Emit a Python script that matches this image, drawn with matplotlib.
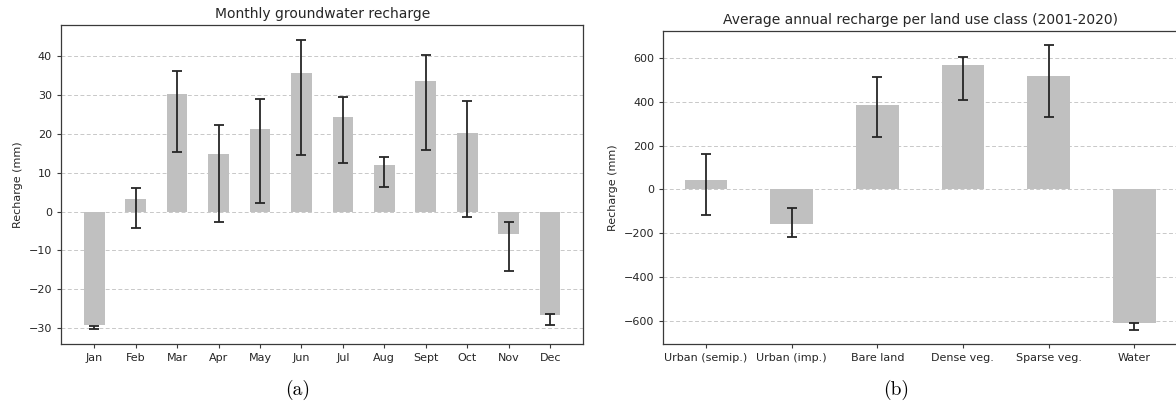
import numpy as np
import matplotlib
matplotlib.use("Agg")
import matplotlib.pyplot as plt

# monthly recharge (mm) with the low/high ends of each error bar
months = ["Jan", "Feb", "Mar", "Apr", "May", "Jun", "Jul", "Aug", "Sept", "Oct", "Nov", "Dec"]
monthly_mean = [-29.3, 3.2, 30.2, 14.9, 21.2, 35.7, 24.5, 11.9, 33.6, 20.3, -5.8, -26.7]
monthly_low = [-30.3, -4.3, 15.3, -2.7, 2.1, 14.7, 12.6, 6.3, 16.0, -1.3, -15.4, -29.3]
monthly_high = [-29.6, 6.0, 36.2, 22.3, 29.0, 44.3, 29.6, 14.2, 40.4, 28.4, -2.7, -26.3]

# average annual recharge per land use class (2001-2020)
classes = ["Urban (semip.)", "Urban (imp.)", "Bare land", "Dense veg.", "Sparse veg.", "Water"]
class_mean = [42.5, -159.5, 384, 570, 516, -611]
class_low = [-115, -216, 241, 410, 331, -641]
class_high = [161, -85, 515, 605, 658, -609]

BAR = "#c0c0c0"
ERR = "#262626"
TXT = "#262626"

plt.rcParams["font.family"] = "DejaVu Sans"
plt.rcParams["axes.edgecolor"] = "#3a3a3a"
plt.rcParams["xtick.color"] = "#3a3a3a"
plt.rcParams["ytick.color"] = "#3a3a3a"
plt.rcParams["xtick.labelcolor"] = TXT
plt.rcParams["ytick.labelcolor"] = TXT


def bar_panel(ax, labels, mean, low, high, title):
    x = np.arange(len(labels))
    ax.bar(x, mean, width=0.5, color=BAR, zorder=2)
    low = np.array(low)
    high = np.array(high)
    mid = (low + high) / 2
    half = (high - low) / 2
    ax.errorbar(x, mid, yerr=half, fmt="none", ecolor=ERR, elinewidth=1.3,
                capsize=3.8, capthick=1.3, zorder=3)
    ax.set_xticks(x)
    ax.set_xticklabels(labels, fontsize=8)
    ax.tick_params(axis="y", labelsize=8)
    ax.tick_params(length=3, width=0.8)
    ax.set_ylabel("Recharge (mm)", fontsize=8, color=TXT)
    ax.set_title(title, fontsize=10, color=TXT, pad=5)
    ax.grid(axis="y", linestyle=(0, (4, 2.5)), color="#c8c8c8", linewidth=0.7, zorder=0)
    ax.set_axisbelow(True)
    for s in ax.spines.values():
        s.set_linewidth(0.9)


fig = plt.figure(figsize=(11.76, 4.09), dpi=100)

ax1 = fig.add_axes([0.0519, 0.1597, 0.4441, 0.7785])
bar_panel(ax1, months, monthly_mean, monthly_low, monthly_high, "Monthly groundwater recharge")
ax1.set_xlim(-0.8, 11.8)

ax2 = fig.add_axes([0.5640, 0.1589, 0.4368, 0.7653])
bar_panel(ax2, classes, class_mean, class_low, class_high,
          "Average annual recharge per land use class (2001-2020)")
ax2.set_xlim(-0.5, 5.5)
ax2.set_yticks([-600, -400, -200, 0, 200, 400, 600])

# sub-figure captions
fig.text(298 / 1176, 1 - 390 / 409, "(a)", family="cmr10", fontsize=14,
         ha="center", va="center", color="black")
fig.text(896 / 1176, 1 - 390 / 409, "(b)", family="cmr10", fontsize=14,
         ha="center", va="center", color="black")

fig.savefig("out.png", dpi=100)
